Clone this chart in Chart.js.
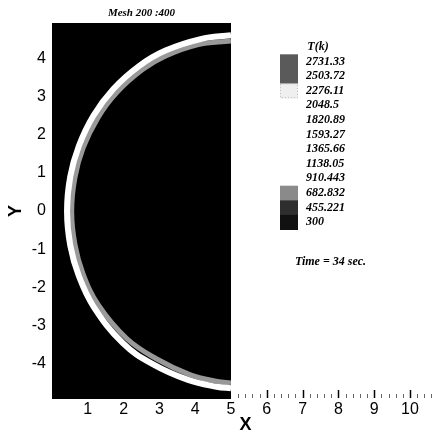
<!DOCTYPE html>
<html>
<head>
<meta charset="utf-8">
<script src="https://cdn.jsdelivr.net/npm/chart.js@4.4.1/dist/chart.umd.min.js"></script>
<style>
  html, body { margin: 0; padding: 0; background: #fff; }
  #wrap { width: 439px; height: 434px; position: relative; }
</style>
</head>
<body>
<div id="wrap"><canvas id="c" width="439" height="434"></canvas></div>
<script>
// ---- data ----
const xTicks = [1, 2, 3, 4, 5, 6, 7, 8, 9, 10];
const yTicks = [-4, -3, -2, -1, 0, 1, 2, 3, 4];
const xRange = [0, 10.81];
const yRange = [-4.92, 4.92];
const domainX = [0, 5];          // extent of the computed (black) region
const domainTop = 4.92;

// white front (outer edge of the hot ring)
const frontX = [5.0, 4.15, 3.17, 2.44, 1.72, 1.16, 0.75, 0.51, 0.42, 0.51, 0.75, 1.16, 1.98, 2.8, 3.8, 4.6, 5.0];
const frontY = [4.6, 4.5, 4.2, 3.8, 3.2, 2.5, 1.7, 0.9, 0.0, -0.9, -1.7, -2.5, -3.46, -4.0, -4.42, -4.6, -4.64];
// grey band just inside the front
const bandX = [5.0, 4.06, 3.16, 2.53, 1.81, 1.29, 0.87, 0.64, 0.55, 0.64, 0.87, 1.29, 2.08, 2.9, 3.85, 4.62, 5.0];
const bandY = [4.45, 4.35, 4.05, 3.7, 3.1, 2.45, 1.65, 0.87, 0.0, -0.87, -1.65, -2.45, -3.33, -3.86, -4.28, -4.46, -4.5];

const legendTitle = 'T(k)';
const legendLabels = ['2731.33', '2503.72', '2276.11', '2048.5', '1820.89', '1593.27', '1365.66', '1138.05', '910.443', '682.832', '455.221', '300'];
const titleText = 'Mesh 200 :400';
const timeText = 'Time = 34 sec.';
const minorStep = 0.2;

// ---- styles ----
const serifBI = 'bold italic 12px "Liberation Serif", "DejaVu Serif", serif';
const legendSwatches = { // row index -> colour (rows without entry get no swatch)
  0: '#5a5a5a', 1: '#5a5a5a', 2: '#efefef', 9: '#8a8a8a', 10: '#2e2e2e', 11: '#111111'
};

const toPts = (xs, ys) => xs.map((x, i) => ({ x, y: ys[i] }));

const overlay = {
  id: 'overlay',
  beforeDatasetDraw(chart, args) {
    if (args.index > 0) {
      const { ctx, chartArea } = chart;
      const xs = chart.scales.x;
      ctx.save();
      ctx.beginPath();
      const r = xs.getPixelForValue(domainX[1]);
      ctx.rect(chartArea.left, chartArea.top, r - chartArea.left, chartArea.bottom - chartArea.top);
      ctx.clip();
    }
  },
  afterDatasetDraw(chart, args) {
    if (args.index > 0) chart.ctx.restore();
  },
  afterDraw(chart) {
    const { ctx, chartArea } = chart;
    const xs = chart.scales.x;
    ctx.save();
    // title above the computed region
    ctx.fillStyle = '#000';
    ctx.font = 'bold italic 11px "Liberation Serif", serif';
    ctx.textAlign = 'center';
    ctx.textBaseline = 'middle';
    ctx.fillText(titleText, xs.getPixelForValue((domainX[0] + domainX[1]) / 2), 13);

    // ticks along the bottom beyond the region
    const b = chartArea.bottom - 1;
    ctx.strokeStyle = '#000';
    ctx.lineWidth = 1.5;
    xTicks.forEach(t => {
      if (t <= domainX[1]) return;
      const px = Math.round(xs.getPixelForValue(t)) + 0.5;
      ctx.beginPath(); ctx.moveTo(px, b); ctx.lineTo(px, b - 8); ctx.stroke();
    });
    ctx.lineWidth = 1;
    ctx.strokeStyle = '#666';
    for (let v = domainX[1] + minorStep; v < xRange[1]; v += minorStep) {
      if (Math.abs(v - Math.round(v)) < 1e-6) continue;
      const px = Math.round(xs.getPixelForValue(v)) + 0.5;
      ctx.beginPath(); ctx.moveTo(px, b); ctx.lineTo(px, b - 4); ctx.stroke();
    }

    // legend
    const lx = 306, top = 47, step = 14.6;
    ctx.textAlign = 'center';
    ctx.font = serifBI;
    ctx.fillStyle = '#000';
    ctx.fillText(legendTitle, 318, top);
    ctx.textAlign = 'left';
    legendLabels.forEach((lab, i) => {
      const y = top + step * (i + 1);
      const sw = legendSwatches[i];
      if (sw) {
        ctx.fillStyle = sw;
        ctx.fillRect(280, y - step / 2, 18, step + 0.5);
        if (sw === '#efefef') {
          ctx.strokeStyle = '#bbb';
          ctx.setLineDash([1, 2]);
          ctx.strokeRect(280.5, y - step / 2 + 0.5, 17, step - 1);
          ctx.setLineDash([]);
        }
      }
      ctx.fillStyle = '#000';
      ctx.fillText(lab, lx, y);
    });
    ctx.font = 'bold italic 12px "Liberation Serif", serif';
    ctx.fillText(timeText, 295, 262);
    ctx.restore();
  }
};

new Chart(document.getElementById('c'), {
  type: 'scatter',
  data: {
    datasets: [
      {
        data: [{ x: domainX[0], y: domainTop }, { x: domainX[1], y: domainTop }],
        showLine: true, fill: 'start', backgroundColor: '#000', borderColor: '#000',
        borderWidth: 0, pointRadius: 0, order: 3
      },
      {
        data: toPts(bandX, bandY), showLine: true, borderColor: '#999999',
        borderWidth: 5, pointRadius: 0, tension: 0.4, fill: false, order: 2
      },
      {
        data: toPts(frontX, frontY), showLine: true, borderColor: '#ffffff',
        borderWidth: 6, pointRadius: 0, tension: 0.4, fill: false, order: 1
      }
    ]
  },
  options: {
    responsive: false,
    animation: false,
    events: [],
    layout: { padding: { top: 23, right: 0, left: 0, bottom: 0 } },
    plugins: { legend: { display: false }, tooltip: { enabled: false }, title: { display: false } },
    scales: {
      x: {
        type: 'linear', min: xRange[0], max: xRange[1],
        afterBuildTicks: s => { s.ticks = xTicks.map(v => ({ value: v })); },
        afterFit: s => { s.height = 35; },
        grid: { display: false, drawTicks: false },
        border: { display: false },
        ticks: { color: '#000', padding: 1, maxRotation: 0, autoSkip: false,
                 font: { family: '"Liberation Sans", Arial, sans-serif', size: 16 } },
        title: { display: true, text: 'X', color: '#000', padding: 0,
                 font: { family: '"Liberation Sans", Arial, sans-serif', size: 18, weight: 'bold', lineHeight: 1 } }
      },
      y: {
        type: 'linear', min: yRange[0], max: yRange[1],
        afterBuildTicks: s => { s.ticks = yTicks.map(v => ({ value: v })); },
        afterFit: s => { s.width = 52; },
        grid: { display: false, drawTicks: false },
        border: { display: false },
        ticks: { color: '#000', padding: 6, autoSkip: false,
                 font: { family: '"Liberation Sans", Arial, sans-serif', size: 16 } },
        title: { display: true, text: 'Y', color: '#000', padding: { top: 5, bottom: 0 },
                 font: { family: '"Liberation Sans", Arial, sans-serif', size: 18, weight: 'bold' } }
      }
    }
  },
  plugins: [overlay]
});
</script>
</body>
</html>
